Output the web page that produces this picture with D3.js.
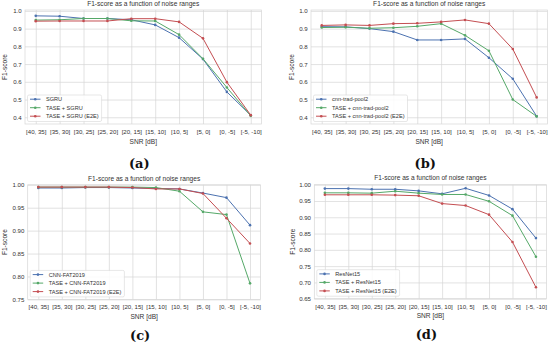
<!DOCTYPE html>
<html>
<head>
<meta charset="utf-8">
<script src="https://cdn.jsdelivr.net/npm/d3@7"></script>
<style>
  body { margin: 0; background: #fff; }
  svg { display: block; }
  text { font-family: "Liberation Sans", Arial, sans-serif; fill: #333; }
  .axis .domain { display: none; }
  .axis line { stroke: #d6d6d6; stroke-width: 0.7; }
</style>
</head>
<body>
<svg id="chart" width="550" height="343"></svg>
<script>
const categories = ["[40, 35]", "[35, 30]", "[30, 25]", "[25, 20]", "[20, 15]",
  "[15, 10]", "[10, 5]", "[5, 0]", "[0, -5]", "[-5, -10]"];

// (a) SGRU
const sgru     = [0.972, 0.970, 0.957, 0.957, 0.950, 0.921, 0.849, 0.728, 0.543, 0.411];
const sgruTase = [0.948, 0.950, 0.957, 0.957, 0.944, 0.943, 0.866, 0.730, 0.568, 0.408];
const sgruE2E  = [0.942, 0.943, 0.943, 0.943, 0.956, 0.956, 0.938, 0.845, 0.598, 0.412];

// (b) cnn-trad-pool2
const cnnTrad     = [0.911, 0.910, 0.900, 0.883, 0.836, 0.836, 0.842, 0.736, 0.617, 0.406];
const cnnTradTase = [0.906, 0.908, 0.902, 0.905, 0.913, 0.928, 0.862, 0.775, 0.500, 0.405];
const cnnTradE2E  = [0.918, 0.921, 0.918, 0.928, 0.930, 0.938, 0.949, 0.928, 0.785, 0.512];

// (c) CNN-FAT2019
const fat     = [0.993, 0.993, 0.994, 0.994, 0.993, 0.992, 0.991, 0.982, 0.972, 0.912];
const fatTase = [0.995, 0.995, 0.995, 0.995, 0.995, 0.994, 0.986, 0.941, 0.935, 0.785];
const fatE2E  = [0.995, 0.995, 0.995, 0.995, 0.994, 0.991, 0.991, 0.981, 0.927, 0.872];

// (d) ResNet15
const resnet     = [0.988, 0.988, 0.986, 0.986, 0.981, 0.972, 0.989, 0.967, 0.925, 0.836];
const resnetTase = [0.975, 0.975, 0.974, 0.980, 0.974, 0.970, 0.970, 0.949, 0.905, 0.779];
const resnetE2E  = [0.969, 0.969, 0.969, 0.968, 0.966, 0.942, 0.936, 0.908, 0.824, 0.685];

const ticksAB = [0.4, 0.5, 0.6, 0.7, 0.8, 0.9, 1.0];
const ticksC  = [0.75, 0.80, 0.85, 0.90, 0.95, 1.00];
const ticksD  = [0.65, 0.70, 0.75, 0.80, 0.85, 0.90, 0.95, 1.00];

const colors = ["#4c72b0", "#55a868", "#c44e52"];
const title = "F1-score as a function of noise ranges";

const panels = [
  { tag: "(a)", names: ["SGRU", "TASE + SGRU", "TASE + SGRU (E2E)"],
    series: [sgru, sgruTase, sgruE2E], ticks: ticksAB, fmt: ".1f", ylim: [0.362, 1.005],
    left: 25, right: 261.5, top: 10, bottom: 124, ylabOff: 20, tagY: 167.5 },
  { tag: "(b)", names: ["cnn-trad-pool2", "TASE + cnn-trad-pool2", "TASE + cnn-trad-pool2 (E2E)"],
    series: [cnnTrad, cnnTradTase, cnnTradE2E], ticks: ticksAB, fmt: ".1f", ylim: [0.362, 1.005],
    left: 311, right: 547.4, top: 10, bottom: 124, ylabOff: 19.5, tagY: 167.5 },
  { tag: "(c)", names: ["CNN-FAT2019", "TASE + CNN-FAT2019", "TASE + CNN-FAT2019 (E2E)"],
    series: [fat, fatTase, fatE2E], ticks: ticksC, fmt: ".2f", ylim: [0.75, 1.0],
    left: 27.7, right: 260.6, top: 184.8, bottom: 299.4, ylabOff: 22.7, tagY: 339.5 },
  { tag: "(d)", names: ["ResNet15", "TASE + ResNet15", "TASE + ResNet15 (E2E)"],
    series: [resnet, resnetTase, resnetE2E], ticks: ticksD, fmt: ".2f", ylim: [0.65, 1.0],
    left: 314.3, right: 546.5, top: 184.7, bottom: 298.7, ylabOff: 22, tagY: 338.5 }
];

const svg = d3.select("#chart");

panels.forEach(drawPanel);

function drawPanel(p) {
  const g = svg.append("g");
  const w = p.right - p.left;
  const h = p.bottom - p.top;
  const cx = (p.left + p.right) / 2;

  const x = d3.scalePoint().domain(categories).range([p.left, p.right]).padding(0.45);
  const y = d3.scaleLinear().domain(p.ylim).range([p.bottom, p.top]);

  g.append("g").attr("class", "axis")
    .attr("transform", `translate(0,${p.bottom})`)
    .call(d3.axisBottom(x).tickSize(-h).tickPadding(5.5))
    .selectAll("text").style("font-size", "6.1px");

  g.append("g").attr("class", "axis")
    .attr("transform", `translate(${p.left},0)`)
    .call(d3.axisLeft(y).tickValues(p.ticks).tickFormat(d3.format(p.fmt)).tickSize(-w).tickPadding(3.3))
    .selectAll("text").style("font-size", "6.1px");

  g.append("rect")
    .attr("x", p.left).attr("y", p.top).attr("width", w).attr("height", h)
    .attr("fill", "none").attr("stroke", "#d6d6d6").attr("stroke-width", 0.7);

  const line = d3.line().x((d, i) => x(categories[i])).y(d => y(d));

  p.series.forEach((s, k) => {
    g.append("path").datum(s)
      .attr("fill", "none").attr("stroke", colors[k]).attr("stroke-width", 1)
      .attr("d", line);
    g.selectAll(null).data(s).join("circle")
      .attr("cx", (d, i) => x(categories[i]))
      .attr("cy", d => y(d))
      .attr("r", 1.3)
      .attr("fill", colors[k]);
  });

  g.append("text").attr("x", cx).attr("y", p.top - 4.3)
    .attr("text-anchor", "middle").style("font-size", "6.6px").text(title);

  g.append("text").attr("x", cx).attr("y", p.bottom + 19.5)
    .attr("text-anchor", "middle").style("font-size", "6.6px").text("SNR [dB]");

  g.append("text")
    .attr("transform", `translate(${p.left - p.ylabOff},${(p.top + p.bottom) / 2}) rotate(-90)`)
    .attr("text-anchor", "middle").attr("dy", "0.35em")
    .style("font-size", "6.6px").text("F1-score");

  g.append("text").attr("x", cx - 4).attr("y", p.tagY)
    .attr("text-anchor", "middle")
    .style("font-family", "'DejaVu Serif', serif").style("font-weight", "bold")
    .style("font-size", "13px").style("fill", "#111").text(p.tag);

  // legend, lower left
  const lg = g.append("g");
  const bx = p.left + 2.5, bh = 26.5, by = p.bottom - 2.5 - bh;
  const frame = lg.append("rect").attr("x", bx).attr("y", by).attr("height", bh)
    .attr("rx", 1.5).attr("fill", "#fff").attr("fill-opacity", 0.85)
    .attr("stroke", "#d6d6d6").attr("stroke-width", 0.6);
  let maxW = 0;
  p.names.forEach((name, k) => {
    const ry = by + 4.2 + k * 8.5;
    lg.append("line").attr("x1", bx + 2.5).attr("x2", bx + 13).attr("y1", ry).attr("y2", ry)
      .attr("stroke", colors[k]).attr("stroke-width", 1);
    lg.append("circle").attr("cx", bx + 7.75).attr("cy", ry).attr("r", 1.3).attr("fill", colors[k]);
    const t = lg.append("text").attr("x", bx + 18.5).attr("y", ry).attr("dy", "0.35em")
      .style("font-size", "5.6px").text(name);
    maxW = Math.max(maxW, t.node().getComputedTextLength());
  });
  frame.attr("width", 18.5 + maxW + 3);
}
</script>
</body>
</html>
